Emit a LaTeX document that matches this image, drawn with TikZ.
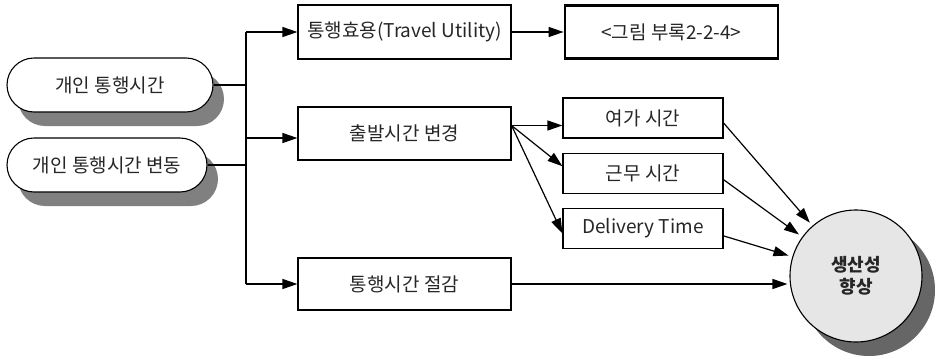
\documentclass[tikz,border=0pt]{standalone}
\usepackage{fontspec}
\setmainfont{Noto Sans CJK KR}
\usetikzlibrary{arrows.meta, positioning, shadows}

\definecolor{shadow_gray}{RGB}{128,128,128}
\definecolor{goal_fill}{RGB}{230,230,230}
\definecolor{goal_shadow}{RGB}{102,102,102}

\begin{document}
\begin{tikzpicture}[
        x=1pt, y=1pt,
        font=\fontsize{19pt}{23pt}\selectfont,
        text=black!85,
        round_box/.style={
            draw,
            fill=white,
            rectangle,
            rounded corners=27pt,
            minimum height=54pt,
            line width=1.1pt,
            drop shadow={shadow xshift=11pt, shadow yshift=-14pt, fill=shadow_gray, opacity=1}
        },
        plain_box/.style={
            draw,
            rectangle,
            minimum width=213pt,
            minimum height=53pt,
            inner sep=2pt,
            line width=1.2pt
        },
        small_box/.style={
            plain_box,
            minimum width=160pt,
            minimum height=40pt
        },
        bold_box/.style={
            plain_box,
            line width=2.6pt
        },
        goal_circle/.style={
            draw,
            circle,
            fill=goal_fill,
            minimum size=132pt,
            line width=1.1pt,
            align=center,
            font=\fontsize{18pt}{22pt}\selectfont\bfseries,
            drop shadow={shadow xshift=13pt, shadow yshift=-14pt, fill=goal_shadow, opacity=1}
        },
        line_style/.style={
            line width=1.2pt
        },
        arrow_style/.style={
            -{Triangle[length=15pt, width=10pt]},
            line width=1.2pt
        }
    ]
        \useasboundingbox (0,0) rectangle (935,-362);

        % left inputs
        \node[round_box, minimum width=206pt] (ind_time) at (110,-85) {개인 통행시간};
        \node[round_box, minimum width=200pt] (ind_var) at (107,-165) {개인 통행시간 변동};

        % middle column
        \node[plain_box, minimum height=54pt] (utility) at (404.5,-32) {통행효용(Travel Utility)};
        \node[bold_box, right=52pt of utility] (fig_ref) {<그림 부록2-2-4>};
        \node[plain_box] (depart) at (404.5,-133.5) {출발시간 변경};
        \node[plain_box, minimum height=52pt] (saving) at (404.5,-284) {통행시간 절감};

        % right column
        \node[small_box] (leisure) at (643,-118) {여가 시간};
        \node[small_box, below=14pt of leisure] (work) {근무 시간};
        \node[small_box, below=14pt of work] (delivery) {Delivery Time};

        \node[goal_circle] (goal) at (856,-276) {생산성\\향상};

        % bus line
        \coordinate (bus_top) at (246,-32);
        \coordinate (bus_mid) at (246,-138);
        \coordinate (bus_bot) at (246,-284);
        \coordinate (fan) at ([yshift=8pt]depart.east);

        \draw[line_style] (bus_top) -- (bus_bot);
        \draw[line_style] (ind_time.east) -- (ind_time.east -| bus_top);
        \draw[line_style] (ind_var.east) -- (ind_var.east -| bus_top);
        \draw[arrow_style] (bus_top) -- (utility.west);
        \draw[arrow_style] (bus_mid) -- (bus_mid -| depart.west);
        \draw[arrow_style] (bus_bot) -- (saving.west);
        \draw[arrow_style] (utility.east) -- (fig_ref.west);

        % fan out
        \draw[arrow_style] (fan) -- (fan -| leisure.west);
        \draw[arrow_style] (fan) -- ([yshift=7pt]work.west);
        \draw[arrow_style] (fan) -- ([yshift=-5pt]delivery.west);

        % into the goal
        \draw[arrow_style, shorten >=4pt] ([yshift=-5pt]leisure.east) -- (goal);
        \draw[arrow_style, shorten >=4pt] ([yshift=-6.5pt]work.east) -- (goal);
        \draw[arrow_style, shorten >=4pt] ([yshift=-7.5pt]delivery.east) -- (goal);
        \draw[arrow_style, shorten >=2pt] (saving.east) -- (saving.east -| goal.west);
    \end{tikzpicture}
\end{document}
